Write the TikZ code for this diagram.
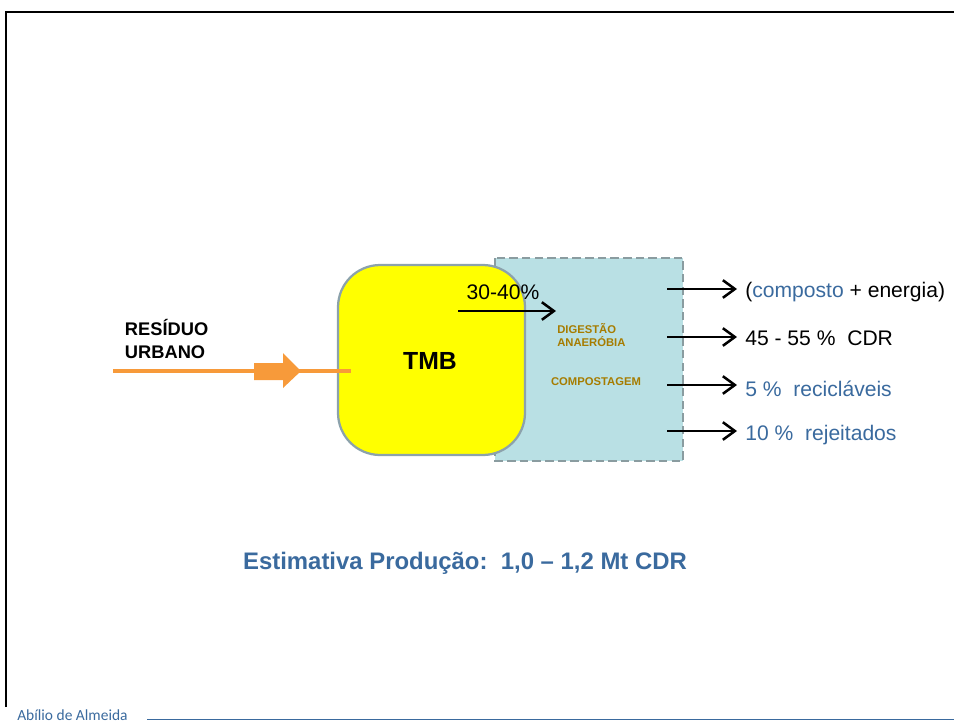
\documentclass[tikz,border=0pt]{standalone}
\usepackage{fontspec}
\setmainfont{Liberation Sans}
\newfontfamily\footfont{Carlito}
\usetikzlibrary{arrows.meta}
\definecolor{tmbyellow}{RGB}{255,255,0}
\definecolor{tmbedge}{RGB}{140,162,172}
\definecolor{procblue}{RGB}{185,224,228}
\definecolor{procedge}{RGB}{138,156,160}
\definecolor{golden}{RGB}{166,124,0}
\definecolor{titleblue}{RGB}{58,106,158}
\definecolor{flowrange}{RGB}{247,154,58}
\tikzset{
	outarrow/.style={line width=1.8pt, -{Straight Barb[length=3mm,width=4.4mm]}},
	outtext/.style={anchor=west, inner sep=0pt, font=\fontsize{15}{17}\selectfont},
	procname/.style={text=golden, font=\fontsize{8}{9.5}\selectfont\bfseries, align=left, inner sep=0pt}
}

\begin{document}
\begin{tikzpicture}[x=0.025cm, y=-0.025cm]
			%%%%% START %%%%%
			\useasboundingbox (0, 0) rectangle (954, 724);
			
			% slide frame
			\draw[line width=1.3pt] (6, 707) -- (6, 12) -- (954, 12);
			\draw[titleblue, line width=0.6pt] (147, 719) -- (954, 719);
			\node[anchor=base west, inner sep=0pt, text=titleblue, font=\footfont\fontsize{11}{13}\selectfont] (autor) at (17, 720) {Abílio de Almeida};
			
			% process boxes
			\draw[procedge, fill=procblue, line width=1.5pt, dash pattern=on 6pt off 3pt] (495, 258) rectangle (683, 461);
			\draw[tmbedge, fill=tmbyellow, line width=1.6pt, rounded corners=30] (338, 265) rectangle (525, 455);
			\node[font=\fontsize{17.6}{20}\selectfont\bfseries] (tmb) at (430, 361) {TMB};
			
			\node[procname, anchor=west] (digestao) at (557, 335) {DIGESTÃO\\ANAERÓBIA};
			\node[procname] (compost) at (596, 382) {COMPOSTAGEM};
			
			% 30-40% fraction
			\node[font=\fontsize{15}{17}\selectfont] (fracao) at (503, 292) {30-40\%};
			\coordinate (fracaoin) at (458, 311);
			\coordinate (fracaoout) at (556, 311);
			\draw[outarrow] (fracaoin) -- (fracaoout);
			
			% input
			\node[anchor=west, align=left, font=\fontsize{13}{16.5}\selectfont\bfseries] (residuo) at (120, 339) {RESÍDUO\\URBANO};
			\coordinate (entrada) at (113, 371);
			\coordinate (tmbin) at (351, 371);
			\draw[flowrange, line width=3pt] (entrada) -- (tmbin);
			\fill[flowrange] (254, 363) -- (283, 363) -- (283, 353) -- (301, 371) -- (283, 388) -- (283, 380) -- (254, 380) -- cycle;
			
			% outputs
			\node[outtext] (energia) at (745, 292) {(\textcolor{titleblue}{composto} + energia)};
			\node[outtext] (cdr) at (745, 338) {45 - 55 \%\ \ CDR};
			\node[outtext, text=titleblue] (reciclaveis) at (745, 389) {5 \%\ \ recicláveis};
			\node[outtext, text=titleblue] (rejeitados) at (745, 435) {10 \%\ \ rejeitados};
			\coordinate (s1) at (667, 289);
			\coordinate (s2) at (667, 337);
			\coordinate (s3) at (667, 385);
			\coordinate (s4) at (667, 431);
			\draw[outarrow, shorten >=0.2cm] (s1) -- (energia.west |- s1);
			\draw[outarrow, shorten >=0.2cm] (s2) -- (cdr.west |- s2);
			\draw[outarrow, shorten >=0.2cm] (s3) -- (reciclaveis.west |- s3);
			\draw[outarrow, shorten >=0.2cm] (s4) -- (rejeitados.west |- s4);
			
			% estimate
			\node[text=titleblue, font=\fontsize{17}{20}\selectfont\bfseries] (estimativa) at (465, 563) {Estimativa Produção:\ \ 1,0 – 1,2 Mt CDR};
			%%%%% END %%%%%
		\end{tikzpicture}
\end{document}
